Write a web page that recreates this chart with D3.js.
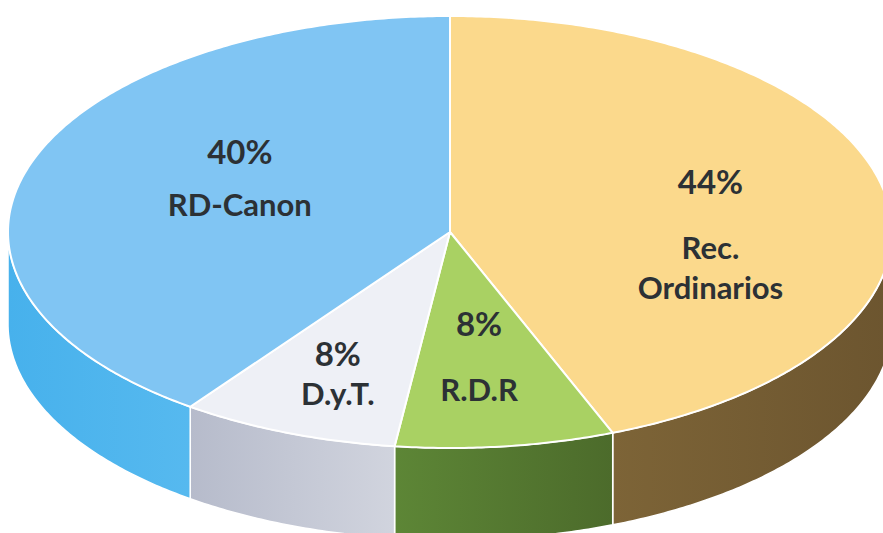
<!DOCTYPE html>
<html>
<head>
<meta charset="utf-8">
<script src="https://cdn.jsdelivr.net/npm/d3@7"></script>
<style>
  body { margin: 0; background: #fff; }
  svg { display: block; }
</style>
</head>
<body>
<svg id="chart" width="883" height="533"></svg>
<script>
// data, clockwise from 12 o'clock
var categories = ["Rec. Ordinarios", "R.D.R", "D.y.T.", "RD-Canon"];
var shares = [44, 8, 8, 40];
var pctLabels = ["44%", "8%", "8%", "40%"];
var nameLines = [["Rec.", "Ordinarios"], ["R.D.R"], ["D.y.T."], ["RD-Canon"]];

var topColors = ["#fbd98c", "#a9d163", "#eef0f6", "#80c5f3"];
var sideColors = [["#7d6437", "#6c552f"], ["#5d8636", "#4c6b2b"], ["#b6bbcb", "#d1d4de"], ["#47b1ec", "#56b9ef"]];

// geometry of the tilted disc
var cx = 450, cy = 232, rx = 442, ry = 216, depth = 92;

// label layout: radial fraction + vertical offsets
var labelLayout = [
  {f: 0.6, pct: -14, name: [51, 91]},
  {f: 0.525, pct: -9, name: [56]},
  {f: 0.69, pct: -5, name: [34]},
  {f: 0.5, pct: -35, name: [17]}
];

var svg = d3.select("#chart");
var defs = svg.append("defs");

function pt(a, r) {
  return [cx + rx * r * Math.sin(a), cy - ry * r * Math.cos(a)];
}

function arcPoints(a0, a1, dy) {
  var n = Math.max(2, Math.ceil((a1 - a0) / 0.01));
  return d3.range(n + 1).map(function(i) {
    var p = pt(a0 + (a1 - a0) * i / n, 1);
    return [p[0], p[1] + (dy || 0)];
  });
}

var pie = d3.pie().sort(null).value(function(d) { return d; })
  .startAngle(0).endAngle(2 * Math.PI);
var arcs = pie(shares);

var line = d3.line();

// side walls (front half only)
var sides = svg.append("g").attr("class", "sides");
arcs.forEach(function(d, i) {
  var s0 = Math.max(d.startAngle, Math.PI / 2),
      s1 = Math.min(d.endAngle, 3 * Math.PI / 2);
  if (s1 <= s0) return;
  var top = arcPoints(s0, s1, 0);
  var bot = arcPoints(s0, s1, depth).reverse();
  var xs = top.map(function(p) { return p[0]; });
  var g = defs.append("linearGradient")
    .attr("id", "side" + i)
    .attr("gradientUnits", "userSpaceOnUse")
    .attr("x1", d3.min(xs)).attr("x2", d3.max(xs))
    .attr("y1", 0).attr("y2", 0);
  g.append("stop").attr("offset", "0%").attr("stop-color", sideColors[i][0]);
  g.append("stop").attr("offset", "100%").attr("stop-color", sideColors[i][1]);
  sides.append("path")
    .attr("d", line(top.concat(bot)) + "Z")
    .attr("fill", "url(#side" + i + ")")
    .attr("stroke", "#fff")
    .attr("stroke-width", 1.5)
    .attr("stroke-linejoin", "round");
});

// top faces
var tops = svg.append("g").attr("class", "tops");
arcs.forEach(function(d, i) {
  var pts = [[cx, cy]].concat(arcPoints(d.startAngle, d.endAngle, 0));
  tops.append("path")
    .attr("d", line(pts) + "Z")
    .attr("fill", topColors[i])
    .attr("stroke", "#fff")
    .attr("stroke-width", 2)
    .attr("stroke-linejoin", "round");
});

// labels
var labels = svg.append("g")
  .attr("font-family", "Lato, 'Open Sans', sans-serif")
  .attr("font-weight", "bold")
  .attr("fill", "#2c3135")
  .attr("text-anchor", "middle");

arcs.forEach(function(d, i) {
  var lay = labelLayout[i];
  var mid = (d.startAngle + d.endAngle) / 2;
  var p = pt(mid, lay.f);
  labels.append("text")
    .attr("x", p[0]).attr("y", p[1] + lay.pct)
    .attr("font-size", 33)
    .text(pctLabels[i]);
  nameLines[i].forEach(function(t, j) {
    labels.append("text")
      .attr("x", p[0]).attr("y", p[1] + lay.name[j])
      .attr("font-size", 31)
      .attr("textLength", null)
      .text(t);
  });
});
</script>
</body>
</html>
